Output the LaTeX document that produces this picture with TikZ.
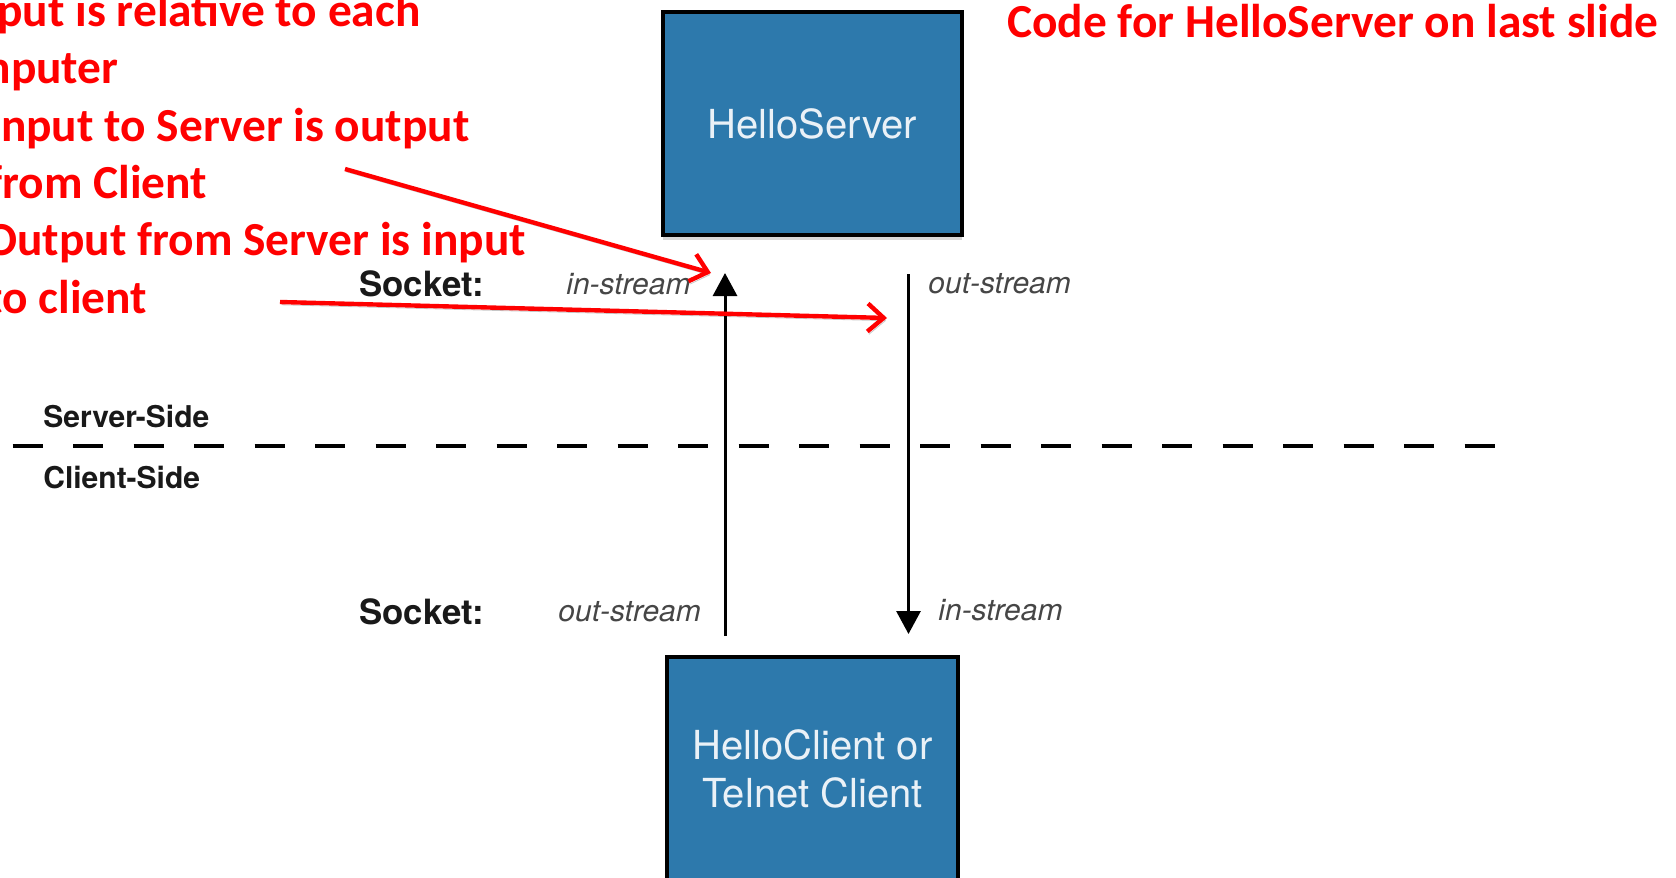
\documentclass[tikz,border=0pt]{standalone}
\usepackage{fontspec}
\setmainfont{TeX Gyre Heros}
\newfontfamily\calibri{Carlito}
\usetikzlibrary{arrows.meta,shadows}

\definecolor{boxblue}{RGB}{45,121,172}
\definecolor{slidered}{RGB}{255,0,0}
\definecolor{labelgray}{RGB}{70,70,70}

\begin{document}
\begin{tikzpicture}[x=0.5pt,y=-0.5pt,
  procbox/.style={draw=black, line width=2pt, fill=boxblue,
    text=white!90!boxblue, font=\fontsize{20}{24}\selectfont,
    align=center, inner sep=0pt,
    drop shadow={shadow xshift=0pt, shadow yshift=-2.5pt, opacity=0.3}},
  sidelabel/.style={font=\bfseries\fontsize{15}{18}\selectfont,
    text=black!90, anchor=west, inner sep=0pt},
  socklabel/.style={font=\bfseries\fontsize{17.4}{20}\selectfont,
    text=black!90, anchor=west, inner sep=0pt},
  streamlabel/.style={font=\itshape\fontsize{15}{18}\selectfont,
    text=labelgray, anchor=west, inner sep=0pt},
  redtext/.style={font=\calibri\bfseries\fontsize{23.7}{28.5}\selectfont,
    text=slidered, anchor=base west, inner sep=0pt},
  divider/.style={line width=2.4pt, dash pattern=on 15pt off 15.25pt},
  flow/.style={line width=1.5pt, -{Triangle[length=11.5pt,width=12pt]}},
  pointer/.style={draw=slidered, line width=2.2pt,
    -{Straight Barb[length=8pt,width=14pt]},
    preaction={draw=black, opacity=0.22,
      transform canvas={xshift=0.8pt,yshift=-1.4pt}}}
]
% page frame
\fill[white] (0,0) rectangle (1676,878);
\useasboundingbox (0,0) rectangle (1676,878);
\clip (0,0) rectangle (1676,878);

% the two programs
\node[procbox, minimum width=149.5pt, minimum height=111.5pt]
  (server) at (812.5,123.5) {HelloServer};
\node[procbox, minimum width=145.5pt, minimum height=112pt]
  (client) at (812.5,769) {HelloClient or\\Telnet Client};

% boundary between the two machines
\coordinate (divL) at (12.5,446);
\coordinate (divR) at (1495,446);
\draw[divider] (divL) -- (divR);
\node[sidelabel] (sside) at (43,416) {Server-Side};
\node[sidelabel] (cside) at (43,477) {Client-Side};

% socket streams
\coordinate (upS) at (725,636);
\coordinate (upE) at (725,273);
\coordinate (dnS) at (908.5,274);
\coordinate (dnE) at (908.5,634);
\draw[flow] (upS) -- (upE);
\draw[flow] (dnS) -- (dnE);

\node[socklabel] (sockS) at (359,284) {Socket:};
\node[socklabel] (sockC) at (359,612) {Socket:};
\node[streamlabel] (sIn) at (566,284) {in-stream};
\node[streamlabel] (sOut) at (928,284) {out-stream};
\node[streamlabel] (cOut) at (558,612) {out-stream};
\node[streamlabel] (cIn) at (938,610) {in-stream};

% notes
\node[redtext] (n1a) at (-41,26.5) {Input is relative to each};
\node[redtext] (n1b) at (-73,83.8) {computer};
\node[redtext] (n2a) at (-12,141) {Input to Server is output};
\node[redtext] (n2b) at (-13,198.4) {from Client};
\node[redtext] (n3a) at (-15,255.7) {Output from Server is input};
\node[redtext] (n3b) at (-14,313) {to client};
\node[redtext] (note) at (1007,37.5) {Code for HelloServer on last slide};

% note pointers
\coordinate (p1s) at (345,169);
\coordinate (p1e) at (711,273);
\coordinate (p2s) at (280,302);
\coordinate (p2e) at (887,318);
\draw[pointer] (p1s) -- (p1e);
\draw[pointer] (p2s) -- (p2e);
\end{tikzpicture}
\end{document}
